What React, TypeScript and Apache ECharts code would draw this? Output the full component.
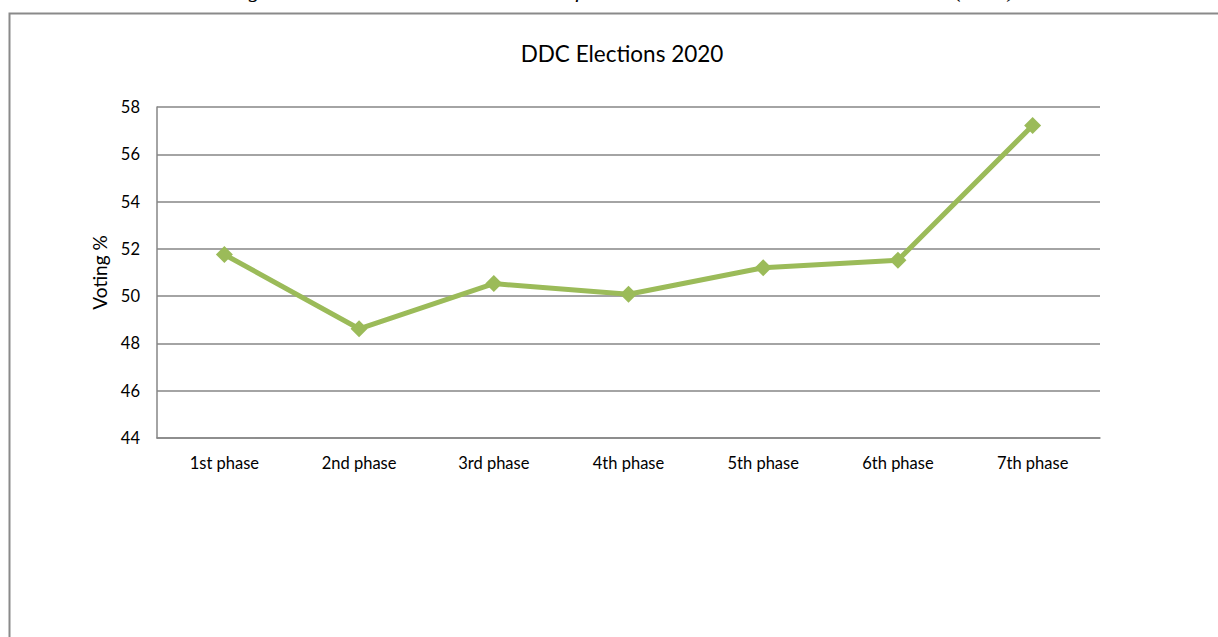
import React, { useEffect, useRef } from "react";
import * as echarts from "echarts";

const categories = ["1st phase", "2nd phase", "3rd phase", "4th phase", "5th phase", "6th phase", "7th phase"];
const votingPct = [51.76, 48.62, 50.53, 50.08, 51.2, 51.52, 57.22];
const chartTitle = "DDC Elections 2020";
const yAxisName = "Voting %";
const caption = "Figure 1: Phase-wise Voter Turnout of DDC Elections in Jammu and Kashmir (2020)";

export default function App() {
  const ref = useRef<HTMLDivElement>(null);
  useEffect(() => {
    const chart = echarts.init(ref.current!, null, { renderer: "svg" });
    chart.setOption({
      animation: false,
      backgroundColor: "#ffffff",
      title: {
        text: chartTitle,
        left: 617,
        top: 37,
        textAlign: "center",
        textStyle: { fontFamily: "Lato", fontSize: 22.5, fontWeight: "normal", color: "#000" },
      },
      graphic: [
        {
          type: "rect",
          shape: { x: 9.5, y: 13.5, width: 1400, height: 800 },
          style: { fill: "none", stroke: "#8a8a8a", lineWidth: 2 },
          silent: true,
        },
        {
          type: "text",
          x: 622,
          y: 1,
          style: {
            text: caption,
            fontFamily: "Liberation Serif",
            fontStyle: "italic",
            fontSize: 23,
            fill: "#000",
            align: "center",
            verticalAlign: "bottom",
          },
        },
      ],
      grid: { left: 157, right: 118, top: 107, bottom: 199, containLabel: false },
      xAxis: {
        type: "category",
        data: categories,
        boundaryGap: true,
        axisLine: { lineStyle: { color: "#868686", width: 1.5 } },
        axisTick: { show: false },
        axisLabel: { fontFamily: "Lato", fontSize: 16.5, color: "#000", margin: 16 },
      },
      yAxis: {
        type: "value",
        min: 44,
        max: 58,
        interval: 2,
        name: yAxisName,
        nameLocation: "middle",
        nameRotate: 90,
        nameGap: 48,
        nameTextStyle: { fontFamily: "Lato", fontSize: 19, color: "#000" },
        axisLine: { show: true, lineStyle: { color: "#868686", width: 1.5 } },
        axisTick: { show: false },
        axisLabel: { fontFamily: "Lato", fontSize: 16.5, color: "#000", margin: 17 },
        splitLine: { lineStyle: { color: "#868686", width: 1.5 } },
      },
      series: [
        {
          type: "line",
          data: votingPct,
          symbol: "diamond",
          symbolSize: 17,
          lineStyle: { color: "#9BBB59", width: 5 },
          itemStyle: { color: "#9BBB59" },
        },
      ],
    });
    return () => chart.dispose();
  }, []);
  return (
    <div
      ref={ref}
      style={{ position: "absolute", left: 0, top: 0, width: 1218, height: 637 }}
    />
  );
}
